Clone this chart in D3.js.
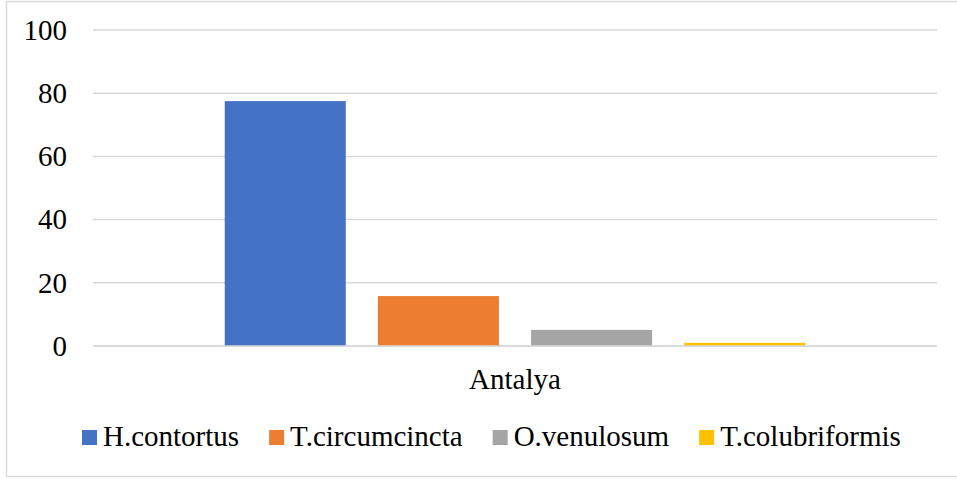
<!DOCTYPE html>
<html>
<head>
<meta charset="utf-8">
<script src="https://cdn.jsdelivr.net/npm/d3@7"></script>
</head>
<body style="margin:0">
<svg id="chart" width="957" height="479"></svg>
<script>
// Prevalence of nematode species, Antalya
const categories = ["Antalya"];
const seriesNames = ["H.contortus", "T.circumcincta", "O.venulosum", "T.colubriformis"];
const seriesColors = ["#4472c4", "#ed7d31", "#a5a5a5", "#ffc000"];
const seriesValues = [77.5, 15.8, 5.1, 1.0];
const yTicks = [0, 20, 40, 60, 80, 100];

const svg = d3.select("#chart");
const W = 957, H = 479;
const FONT = "'Liberation Serif', monospace";
const FONT_SIZE = 29;

// approximate advance widths for legend spacing (Times-metric font, em units)
const ctx = document.createElement("canvas").getContext("2d");
ctx.font = `${FONT_SIZE}px ${FONT}`;
const textWidth = s => ctx.measureText(s).width;

// chart frame
svg.append("rect")
  .attr("x", 6.5).attr("y", 1.5)
  .attr("width", W + 10).attr("height", 475)
  .attr("fill", "#fff").attr("stroke", "#d9d9d9").attr("stroke-width", 1.5);

const plot = { left: 93, right: 937, top: 30, bottom: 346 };

const y = d3.scaleLinear().domain([0, 100]).range([plot.bottom, plot.top]);
const x0 = d3.scaleBand().domain(categories).range([plot.left, plot.right]);
const x1 = d3.scaleBand().domain(seriesNames)
  .range([0, x0.bandwidth()])
  .paddingInner(0.21).paddingOuter(0.86);

// gridlines
svg.selectAll("line.grid")
  .data(yTicks)
  .join("line")
  .attr("class", "grid")
  .attr("x1", plot.left).attr("x2", plot.right)
  .attr("y1", d => y(d)).attr("y2", d => y(d))
  .attr("stroke", "#d9d9d9").attr("stroke-width", 1.5);

// y tick labels
svg.selectAll("text.ytick")
  .data(yTicks)
  .join("text")
  .attr("class", "ytick")
  .attr("x", plot.left - 26)
  .attr("y", d => y(d))
  .attr("dy", "0.34em")
  .attr("text-anchor", "end")
  .attr("font-size", FONT_SIZE)
  .style("font-family", FONT)
  .text(d => d3.format("d")(d));

// bars
const bars = seriesNames.map((s, i) => ({ cat: categories[0], name: s, value: seriesValues[i], color: seriesColors[i] }));
svg.selectAll("rect.bar")
  .data(bars)
  .join("rect")
  .attr("class", "bar")
  .attr("x", d => x0(d.cat) + x1(d.name))
  .attr("width", x1.bandwidth())
  .attr("y", d => y(d.value))
  .attr("height", d => y(0) - y(d.value))
  .attr("fill", d => d.color);

// baseline drawn over bar bottoms
svg.append("line")
  .attr("x1", plot.left).attr("x2", plot.right)
  .attr("y1", y(0)).attr("y2", y(0))
  .attr("stroke", "#d9d9d9").attr("stroke-width", 1.5);

// category label
svg.selectAll("text.xtick")
  .data(categories)
  .join("text")
  .attr("class", "xtick")
  .attr("x", d => x0(d) + x0.bandwidth() / 2)
  .attr("y", plot.bottom + 43)
  .attr("text-anchor", "middle")
  .attr("font-size", FONT_SIZE)
  .style("font-family", FONT)
  .text(d => d);

// legend
let lx = 82;
const legendItems = seriesNames.map((name, i) => {
  const item = { name, color: seriesColors[i], x: lx };
  lx += 21 + textWidth(name) + 30;
  return item;
});
svg.selectAll("rect.key")
  .data(legendItems)
  .join("rect")
  .attr("class", "key")
  .attr("x", d => d.x).attr("y", 430)
  .attr("width", 15).attr("height", 15)
  .attr("fill", d => d.color);
svg.selectAll("text.key")
  .data(legendItems)
  .join("text")
  .attr("class", "key")
  .attr("x", d => d.x + 21).attr("y", 446)
  .attr("font-size", FONT_SIZE)
  .style("font-family", FONT)
  .text(d => d.name);
</script>
</body>
</html>
